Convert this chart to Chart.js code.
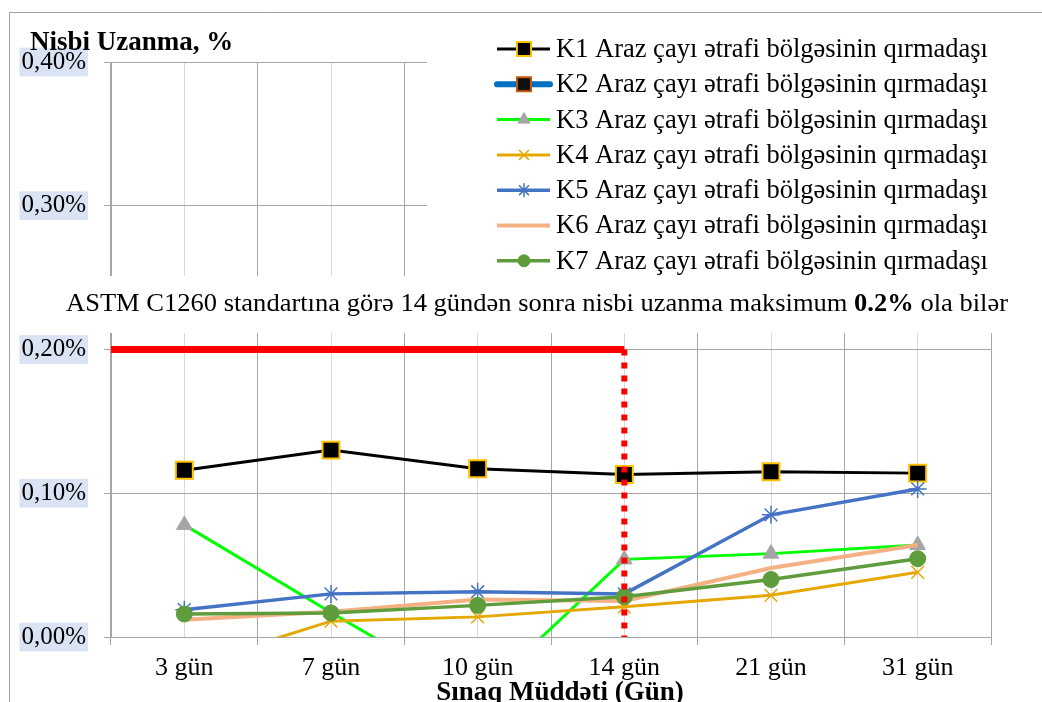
<!DOCTYPE html>
<html>
<head>
<meta charset="utf-8">
<script src="https://cdn.jsdelivr.net/npm/chart.js@4.4.0/dist/chart.umd.min.js"></script>
<style>
  html, body { margin: 0; padding: 0; background: #fff; }
  #wrap { width: 1042px; height: 702px; }
</style>
</head>
<body>
<div id="wrap"><canvas id="chart" width="1042" height="702"></canvas></div>
<script>
// categories (test days)
const days = ["3 gün", "7 gün", "10 gün", "14 gün", "21 gün", "31 gün"];
const seriesNames = [
  "K1 Araz çayı ətrafi bölgəsinin qırmadaşı",
  "K2 Araz çayı ətrafi bölgəsinin qırmadaşı",
  "K3 Araz çayı ətrafi bölgəsinin qırmadaşı",
  "K4 Araz çayı ətrafi bölgəsinin qırmadaşı",
  "K5 Araz çayı ətrafi bölgəsinin qırmadaşı",
  "K6 Araz çayı ətrafi bölgəsinin qırmadaşı",
  "K7 Araz çayı ətrafi bölgəsinin qırmadaşı"
];

// relative expansion, %
const k1 = [0.116, 0.130, 0.117, 0.113, 0.115, 0.114];
const k2 = [null, null, null, null, null, null]; // not visible in the plot
const k3 = [0.078, 0.017, -0.042, 0.054, 0.058, 0.064];
const k4 = [-0.021, 0.011, 0.014, 0.021, 0.029, 0.045];
const k5 = [0.019, 0.030, 0.0315, 0.030, 0.085, 0.103];
const k6 = [0.012, 0.0175, 0.026, 0.025, 0.048, 0.064];
const k7 = [0.016, 0.0167, 0.022, 0.028, 0.040, 0.0545];

// ASTM C1260 limit: 0.2% after 14 days
const limitValue = 0.2;
const limitDayIndex = 3;

// y axis ticks
const yTicks = [0, 0.1, 0.2, 0.3, 0.4];

const titleText = "Nisbi Uzanma, %";
const xTitleText = "Sınaq Müddəti (Gün)";
const noteParts = [
  ["ASTM C1260 standartına görə 14 gündən sonra nisbi uzanma maksimum ", false],
  ["0.2%", true],
  [" ola bilər", false]
];

const SERIF = "'Liberation Serif', 'Times New Roman', serif";

function fmtPct(v) {
  return v.toFixed(2).replace(".", ",") + "%";
}

function series(label, data, color, width, style, extra) {
  return Object.assign({
    label: label,
    data: data,
    xAxisID: "x",
    borderColor: color,
    backgroundColor: color,
    borderWidth: width,
    pointStyle: style,
    tension: 0,
    spanGaps: false
  }, extra);
}

const datasets = [
  series(seriesNames[0], k1, "#000000", 3, "rect",
    { pointRadius: 12, pointBackgroundColor: "#000000", pointBorderColor: "#ffc000", pointBorderWidth: 2, order: 7 }),
  series(seriesNames[1], k2, "#0070c0", 6, "rect",
    { pointRadius: 12, pointBackgroundColor: "#111111", pointBorderColor: "#c55a11", pointBorderWidth: 2, order: 6, borderCapStyle: "round" }),
  series(seriesNames[2], k3, "#00ff00", 3, "triangle",
    { pointRadius: 9, pointBackgroundColor: "#a5a5a5", pointBorderColor: "#a5a5a5", pointBorderWidth: 1, order: 5 }),
  series(seriesNames[3], k4, "#e5a800", 3, "crossRot",
    { pointRadius: 9, pointBorderColor: "#e5a800", pointBorderWidth: 1.5, order: 4 }),
  series(seriesNames[4], k5, "#4472c4", 3.5, "star",
    { pointRadius: 9, pointBorderColor: "#4472c4", pointBorderWidth: 1.5, order: 3 }),
  series(seriesNames[5], k6, "#f4b183", 4, "circle",
    { pointRadius: 0, order: 2 }),
  series(seriesNames[6], k7, "#5f9c3c", 3.5, "circle",
    { pointRadius: 8, pointBackgroundColor: "#5f9c3c", pointBorderColor: "#5f9c3c", pointBorderWidth: 1, order: 1 }),
  {
    label: "limit",
    data: [{ x: -0.5, y: limitValue }, { x: limitDayIndex, y: limitValue }],
    xAxisID: "xl",
    borderColor: "#ff0000",
    borderWidth: 7,
    pointRadius: 0,
    order: 0
  },
  {
    label: "limit day",
    data: [{ x: limitDayIndex, y: limitValue }, { x: limitDayIndex, y: 0 }],
    xAxisID: "xl",
    borderColor: "#ff0000",
    borderWidth: 6,
    borderDash: [6, 7],
    pointRadius: 0,
    order: 0
  }
];

function drawMarker(ctx, ds, x, y) {
  const r = ds.pointRadius;
  if (!r) return;
  ctx.save();
  ctx.fillStyle = ds.pointBackgroundColor || ds.borderColor;
  ctx.strokeStyle = ds.pointBorderColor || ds.borderColor;
  ctx.lineWidth = ds.pointBorderWidth || 1;
  ctx.setLineDash([]);
  ctx.beginPath();
  if (ds.pointStyle === "rect") {
    const s = Math.SQRT1_2 * r;
    ctx.rect(x - s, y - s, 2 * s, 2 * s);
    ctx.fill(); ctx.stroke();
  } else if (ds.pointStyle === "triangle") {
    ctx.moveTo(x, y - r);
    ctx.lineTo(x + r * 0.866, y + r * 0.5);
    ctx.lineTo(x - r * 0.866, y + r * 0.5);
    ctx.closePath();
    ctx.fill(); ctx.stroke();
  } else if (ds.pointStyle === "crossRot" || ds.pointStyle === "star") {
    const s = r * Math.SQRT1_2;
    ctx.moveTo(x - s, y - s); ctx.lineTo(x + s, y + s);
    ctx.moveTo(x - s, y + s); ctx.lineTo(x + s, y - s);
    if (ds.pointStyle === "star") {
      ctx.moveTo(x, y - r); ctx.lineTo(x, y + r);
      ctx.moveTo(x - r, y); ctx.lineTo(x + r, y);
    }
    ctx.stroke();
  } else {
    ctx.arc(x, y, r, 0, Math.PI * 2);
    ctx.fill(); ctx.stroke();
  }
  ctx.restore();
}

const decor = {
  id: "decor",
  beforeDraw(chart) {
    const ctx = chart.ctx;
    ctx.save();
    ctx.fillStyle = "#ffffff";
    ctx.fillRect(0, 0, chart.width, chart.height);
    ctx.strokeStyle = "#a0a0a0";
    ctx.lineWidth = 1;
    ctx.beginPath();
    ctx.moveTo(9.5, chart.height);
    ctx.lineTo(9.5, 12.5);
    ctx.lineTo(chart.width, 12.5);
    ctx.stroke();
    ctx.restore();
  },
  beforeDatasetsDraw(chart) {
    // white boxes of legend and note over the grid
    const ctx = chart.ctx;
    ctx.save();
    ctx.fillStyle = "#ffffff";
    ctx.fillRect(427, 20, 600, 256);
    ctx.fillRect(60, 276, 970, 57);
    ctx.restore();
  },
  afterDraw(chart) {
    const ctx = chart.ctx;
    ctx.save();
    ctx.fillStyle = "#000000";
    ctx.textBaseline = "alphabetic";

    // axis titles
    ctx.font = "bold 27px " + SERIF;
    ctx.textAlign = "left";
    ctx.fillText(titleText, 30, 50);
    ctx.textAlign = "center";
    ctx.fillText(xTitleText, 560, 700);

    // note
    ctx.textAlign = "left";
    let total = 0;
    noteParts.forEach(p => {
      ctx.font = (p[1] ? "bold " : "") + "25px " + SERIF;
      total += ctx.measureText(p[0]).width;
    });
    const sx = 942 / total;
    ctx.save();
    ctx.translate(66, 311);
    ctx.scale(sx, 1);
    let x = 0;
    noteParts.forEach(p => {
      ctx.font = (p[1] ? "bold " : "") + "25px " + SERIF;
      ctx.fillText(p[0], x, 0);
      x += ctx.measureText(p[0]).width;
    });
    ctx.restore();

    // legend
    for (let i = 0; i < seriesNames.length; i++) {
      const ds = chart.data.datasets[i];
      const y = 49 + i * 35.3;
      ctx.save();
      ctx.strokeStyle = ds.borderColor;
      ctx.lineWidth = ds.borderWidth;
      ctx.lineCap = ds.borderCapStyle || "butt";
      ctx.beginPath();
      ctx.moveTo(497, y);
      ctx.lineTo(550, y);
      ctx.stroke();
      ctx.restore();
      drawMarker(ctx, Object.assign({}, ds, { pointRadius: ds.pointRadius ? ds.pointRadius - 2 : 0 }), 524, y);
      ctx.font = "26.5px " + SERIF;
      ctx.textBaseline = "middle";
      ctx.textAlign = "left";
      ctx.fillStyle = "#000000";
      ctx.fillText(ds.label, 556, y + 1);
    }
    ctx.restore();
  }
};

new Chart(document.getElementById("chart"), {
  type: "line",
  data: { labels: days, datasets: datasets },
  options: {
    responsive: false,
    animation: false,
    layout: { padding: { left: 0, top: 62, right: 51, bottom: 0 } },
    plugins: {
      legend: { display: false },
      tooltip: { enabled: false }
    },
    scales: {
      x: {
        type: "category",
        position: "bottom",
        offset: true,
        grid: { offset: true, color: "#a6a6a6", lineWidth: 1, tickLength: 8, tickColor: "#a6a6a6" },
        border: { display: true, color: "#a6a6a6" },
        ticks: { color: "#000000", font: { family: SERIF, size: 26 }, padding: 8, maxRotation: 0 },
        afterFit(s) { s.height = 65; }
      },
      xl: {
        type: "linear",
        position: "bottom",
        min: -0.5,
        max: 5.5,
        grid: { color: "#d9d9d9", lineWidth: 1, drawTicks: false },
        border: { display: false },
        ticks: { display: false },
        afterBuildTicks(s) { s.ticks = days.map((d, i) => ({ value: i })); },
        afterFit(s) { s.height = 0; }
      },
      y: {
        min: 0,
        max: 0.4,
        afterBuildTicks(s) { s.ticks = yTicks.map(v => ({ value: v })); },
        grid: { color: "#a6a6a6", lineWidth: 1, tickLength: 7, tickColor: "#a6a6a6" },
        border: { display: true, color: "#a6a6a6" },
        ticks: {
          color: "#000000",
          font: { family: SERIF, size: 25, lineHeight: 1.15 },
          padding: 18,
          showLabelBackdrop: true,
          backdropColor: "#dae3f3",
          backdropPadding: { top: 0, bottom: 0, left: 2, right: 2 },
          callback: v => fmtPct(v)
        },
        afterFit(s) { s.width = 111; }
      }
    }
  },
  plugins: [decor]
});
</script>
</body>
</html>
